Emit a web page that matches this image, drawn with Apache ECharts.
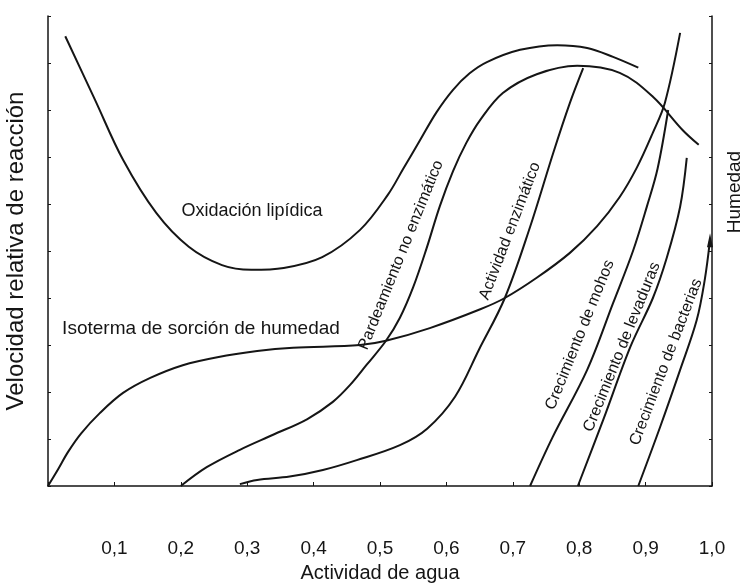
<!DOCTYPE html>
<html>
<head>
<meta charset="utf-8">
<script src="https://cdn.jsdelivr.net/npm/echarts@6/dist/echarts.min.js"></script>
<style>
  html, body { margin: 0; padding: 0; background: #fff; }
  #chart { width: 742px; height: 583px; }
</style>
</head>
<body>
<div id="chart"></div>
<script>
// Water activity (a_w) on x, relative rate / moisture on y (0-100 scale)
const xTicks = [0, 0.1, 0.2, 0.3, 0.4, 0.5, 0.6, 0.7, 0.8, 0.9, 1.0];

const oxidacionLipidica = [
  [0.026, 95.7], [0.071, 82.1], [0.113, 69.4], [0.163, 58.1], [0.212, 50.9],
  [0.262, 47.0], [0.306, 46.0], [0.355, 46.4], [0.413, 48.7], [0.470, 54.5],
  [0.512, 62.0], [0.535, 67.5], [0.560, 73.5], [0.585, 79.5], [0.610, 84.3],
  [0.635, 87.8], [0.661, 90.2], [0.711, 92.8], [0.767, 93.8], [0.812, 93.2],
  [0.851, 91.3], [0.889, 89.0]
];

const isotermaSorcion = [
  [0.000, 0.0], [0.015, 3.5], [0.030, 7.2], [0.050, 11.2], [0.078, 15.5],
  [0.113, 19.8], [0.154, 23.0], [0.203, 25.7], [0.255, 27.4], [0.315, 28.7],
  [0.369, 29.4], [0.470, 30.0], [0.509, 30.9], [0.575, 33.6], [0.651, 37.6],
  [0.688, 40.0], [0.736, 44.3], [0.786, 49.6], [0.827, 55.3], [0.861, 61.5],
  [0.887, 67.8], [0.911, 75.2], [0.929, 81.5], [0.952, 96.4]
];

const pardeamientoNoEnzimatico = [
  [0.200, 0.0], [0.239, 4.0], [0.289, 7.7], [0.339, 10.9], [0.390, 14.2],
  [0.429, 17.9], [0.455, 21.5], [0.480, 25.8], [0.509, 30.9], [0.530, 35.8],
  [0.550, 42.3], [0.570, 50.5], [0.590, 59.5], [0.610, 67.0], [0.630, 73.0],
  [0.651, 77.9], [0.685, 83.6], [0.736, 87.6], [0.797, 89.4], [0.861, 87.9],
  [0.911, 82.8], [0.956, 75.7], [0.980, 72.6]
];

const actividadEnzimatica = [
  [0.289, 0.4], [0.315, 1.3], [0.364, 2.0], [0.414, 3.4], [0.465, 5.5],
  [0.530, 8.7], [0.571, 12.2], [0.613, 19.0], [0.649, 29.0], [0.688, 40.0],
  [0.726, 55.1], [0.761, 70.9], [0.786, 81.5], [0.806, 88.9]
];

const crecimientoMohos = [
  [0.726, 0.0], [0.760, 10.4], [0.812, 24.7], [0.851, 38.9], [0.881, 50.0],
  [0.902, 59.5], [0.918, 67.5], [0.934, 80.0]
];

const crecimientoLevaduras = [
  [0.798, 0.0], [0.836, 14.0], [0.877, 29.6], [0.911, 40.0], [0.932, 48.6],
  [0.952, 59.4], [0.962, 69.8]
];

const crecimientoBacterias = [
  [0.889, 0.0], [0.922, 12.6], [0.952, 24.7], [0.977, 35.3], [0.989, 43.8],
  [0.997, 52.3]
];

const ink = '#151515';
const font = 'Liberation Sans, Arial, sans-serif';

function curve(name, data, extra) {
  return Object.assign({
    name: name,
    type: 'line',
    data: data,
    smooth: 0.35,
    showSymbol: false,
    symbol: 'none',
    lineStyle: { color: ink, width: 2 },
    silent: true
  }, extra || {});
}

// Rotated captions that run along the steep curves
function slanted(text, x, y, deg) {
  return {
    type: 'text',
    x: x, y: y,
    rotation: deg * Math.PI / 180,
    style: {
      text: text, fill: ink, font: '16px ' + font,
      align: 'center', verticalAlign: 'middle'
    }
  };
}

const chart = echarts.init(document.getElementById('chart'));
chart.setOption({
  animation: false,
  backgroundColor: '#fff',
  grid: {
    left: 48, right: 30, top: 16, bottom: 97,
    containLabel: false, outerBoundsMode: 'none'
  },
  xAxis: {
    type: 'value', min: 0, max: 1, interval: 0.1,
    name: 'Actividad de agua', nameLocation: 'middle', nameGap: 77,
    nameTextStyle: { color: ink, fontSize: 20, fontFamily: font },
    axisLine: { show: true, lineStyle: { color: ink, width: 1.5 } },
    axisTick: { show: true, inside: true, length: 4, lineStyle: { color: ink } },
    axisLabel: {
      margin: 53, color: ink, fontSize: 19, fontFamily: font,
      formatter: v => {
        const t = xTicks.find(k => Math.abs(k - v) < 1e-6);
        return (t === undefined || t === 0) ? '' : t.toFixed(1).replace('.', ',');
      }
    },
    splitLine: { show: false }
  },
  yAxis: [
    {
      type: 'value', min: 0, max: 100, interval: 10, position: 'left',
      name: 'Velocidad relativa de reacción', nameLocation: 'middle', nameGap: 20,
      nameRotate: 90,
      nameTextStyle: { color: ink, fontSize: 24, fontFamily: font },
      axisLine: { show: true, lineStyle: { color: ink, width: 1.5 } },
      axisTick: { show: true, inside: true, length: 3, lineStyle: { color: ink } },
      axisLabel: { show: false },
      splitLine: { show: false }
    },
    {
      type: 'value', min: 0, max: 100, interval: 10, position: 'right',
      axisLine: { show: true, lineStyle: { color: ink, width: 1.5 } },
      axisTick: { show: true, inside: true, length: 3, lineStyle: { color: ink } },
      axisLabel: { show: false },
      splitLine: { show: false }
    }
  ],
  series: [
    curve('Oxidación lipídica', oxidacionLipidica),
    curve('Isoterma de sorción de humedad', isotermaSorcion),
    curve('Pardeamiento no enzimático', pardeamientoNoEnzimatico),
    curve('Actividad enzimático', actividadEnzimatica),
    curve('Crecimiento de mohos', crecimientoMohos),
    curve('Crecimiento de levaduras', crecimientoLevaduras),
    curve('Crecimiento de bacterias', crecimientoBacterias, {
      showSymbol: true,
      symbol: (v, p) => p.dataIndex === crecimientoBacterias.length - 1 ? 'triangle' : 'none',
      symbolSize: [6, 14],
      itemStyle: { color: ink }
    })
  ],
  graphic: [
    {
      type: 'text', x: 252, y: 211,
      style: { text: 'Oxidación lipídica', fill: ink, font: '18px ' + font,
               align: 'center', verticalAlign: 'middle' }
    },
    {
      type: 'text', x: 201, y: 329,
      style: { text: 'Isoterma de sorción de humedad', fill: ink, font: '19px ' + font,
               align: 'center', verticalAlign: 'middle' }
    },
    {
      type: 'text', x: 735, y: 192, rotation: Math.PI / 2,
      style: { text: 'Humedad', fill: ink, font: '19px ' + font,
               align: 'center', verticalAlign: 'middle' }
    },
    slanted('Pardeamiento no enzimático', 401, 255, 68),
    slanted('Actividad enzimático', 510, 231, 69),
    slanted('Crecimiento de mohos', 580, 335, 68),
    slanted('Crecimiento de levaduras', 622, 347, 68),
    slanted('Crecimiento de bacterias', 666, 362, 69)
  ]
});
</script>
</body>
</html>
